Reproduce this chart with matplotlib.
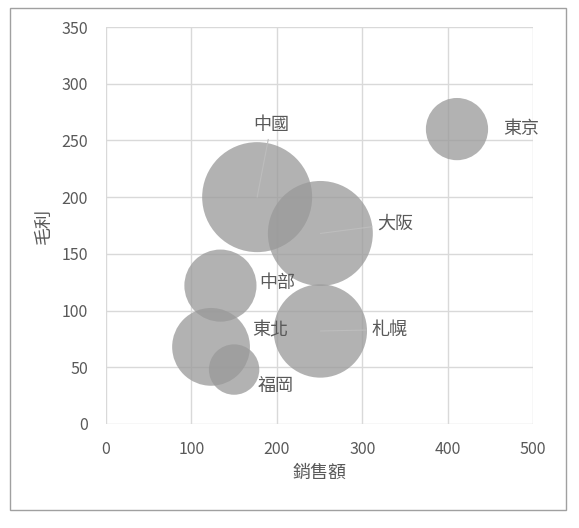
import matplotlib
matplotlib.use("Agg")
import matplotlib.pyplot as plt
from matplotlib.patches import Rectangle
import numpy as np

plt.rcParams['font.family'] = ['Noto Sans CJK TC', 'DejaVu Sans']

# data
regions = ['東京', '中國', '大阪', '中部', '札幌', '東北', '福岡']
sales = [411, 177, 251, 134, 251, 123, 150]     # 銷售額
profit = [260, 200, 168, 122, 82, 68, 48]       # 毛利
bubble = [32, 100, 91, 43, 72, 50, 21]          # bubble size

# label offsets (points) from bubble centre, and whether a leader line is drawn
label_off = [(33, 0), (10, 52), (41, 7), (28, 2), (37, 1), (30, 12), (17, -12)]
label_ha = ['left', 'center', 'left', 'left', 'left', 'left', 'left']
leader = [False, True, True, False, True, False, False]

txt = '#595959'
grid = '#d9d9d9'

fig = plt.figure(figsize=(5.79, 5.28), dpi=100)
ax = fig.add_axes([106 / 579, 1 - 424 / 528, 427 / 579, 397 / 528])

# largest bubble ~110 px across
dmax_pt = 110 * 0.72
sizes = [(dmax_pt ** 2) * b / max(bubble) for b in bubble]
ax.scatter(sales, profit, s=sizes, color='#999999', alpha=0.75,
           edgecolors='none', zorder=3)

for name, x, y, off, ha, ln in zip(regions, sales, profit, label_off, label_ha, leader):
    props = None
    if ln:
        props = dict(arrowstyle='-', color='#bdbdbd', lw=0.8,
                     shrinkA=2, shrinkB=0)
    ax.annotate(name, xy=(x, y), xytext=off, textcoords='offset points',
                ha=ha, va='center', fontsize=13, color=txt,
                arrowprops=props, zorder=4)

ax.set_xlim(0, 500)
ax.set_ylim(0, 350)
ax.set_xticks(np.arange(0, 501, 100))
ax.set_yticks(np.arange(0, 351, 50))
ax.grid(True, color=grid, lw=1, zorder=0)
for s in ax.spines.values():
    s.set_visible(False)
ax.tick_params(length=0, labelsize=11.5, labelcolor=txt)
ax.tick_params(axis='x', pad=12)
ax.tick_params(axis='y', pad=13)

ax.set_xlabel('銷售額', fontsize=13, color=txt)
ax.set_ylabel('毛利', fontsize=13, color=txt)
ax.xaxis.set_label_coords(213 / 427, -(464 - 424) / 397)
ax.yaxis.set_label_coords(-(106 - 53) / 427, 0.5)

fig.patches.append(Rectangle((10 / 579, 1 - 510 / 528), 556 / 579, 502 / 528,
                             transform=fig.transFigure, fill=False,
                             edgecolor='#a0a0a0', lw=1))

fig.savefig('out.png', dpi=100)
